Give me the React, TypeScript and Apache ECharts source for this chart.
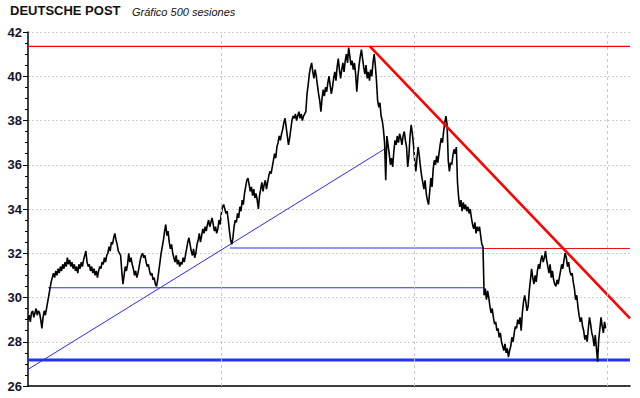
import React, { useEffect, useRef } from "react";
import * as echarts from "echarts";

const TITLE = "DEUTSCHE POST";
const SUBTITLE = "Gráfico 500 sesiones";

// 500 daily closes, in blocks of 10 sessions
const closes: number[] = [
  29.0, 29.2, 28.9, 29.3, 29.4, 29.1, 29.3, 29.5, 29.2, 29.4,
  29.3, 29.0, 28.6, 29.1, 29.4, 29.2, 29.5, 29.8, 30.1, 30.4,
  30.7, 30.9, 31.1, 30.9, 31.2, 31.0, 31.3, 31.1, 31.4, 31.2,
  31.5, 31.3, 31.6, 31.4, 31.8, 31.5, 31.7, 31.4, 31.6, 31.3,
  31.5, 31.2, 31.4, 31.1, 31.5, 31.3, 31.6, 31.4, 31.7, 31.9,
  32.1, 31.6, 31.4, 31.5, 31.2, 31.4, 31.1, 31.3, 31.0, 31.2,
  30.9, 31.2, 31.4, 31.3, 31.6, 31.5, 31.8, 31.6, 31.9, 32.0,
  32.3, 32.1, 32.5, 32.4, 32.7, 32.9, 32.6, 32.4, 32.1, 32.0,
  31.9, 31.2, 30.6, 31.0, 31.4, 31.2, 31.5, 32.0, 31.6, 31.8,
  31.5, 31.3, 31.0, 31.2, 30.9, 31.1, 31.4, 31.7, 31.9, 32.0,
  31.8, 31.9, 31.6, 31.4, 31.5, 31.2, 31.0, 31.1, 30.8, 30.9,
  30.6, 30.5, 30.8, 31.2, 31.6, 32.0, 32.3, 32.6, 33.0, 33.3,
  32.8, 33.0, 32.5, 32.2, 32.4, 32.0, 31.8, 31.6, 31.9, 31.5,
  31.7, 31.4, 31.6, 31.5, 31.8, 31.6, 31.9, 32.2, 32.5, 32.7,
  32.4, 32.1, 31.9, 32.2, 31.8, 32.0, 32.4, 32.6, 32.9, 32.5,
  32.8, 33.1, 32.9, 33.2, 33.0, 33.3, 33.5, 33.2, 33.4, 33.6,
  33.3, 33.0, 33.2, 32.9, 33.1, 33.5, 33.3, 33.8, 34.1, 34.2,
  34.0, 33.8, 33.9, 33.5, 33.0, 32.6, 32.4, 32.7, 33.2, 33.5,
  33.4, 33.8, 33.6, 34.1, 33.9, 34.4, 34.2, 34.7, 35.0, 35.3,
  35.4, 35.1, 34.8, 35.0, 34.6, 34.9, 34.5, 34.7, 34.4, 34.0,
  34.6, 34.9, 35.2, 34.8, 35.1, 35.3, 34.9, 35.2, 35.5, 35.7,
  35.6, 35.9, 36.2, 36.5, 36.3, 36.8, 37.0, 37.3, 37.1, 37.4,
  37.6, 37.9, 38.1, 37.7, 37.3, 36.9, 37.2, 37.6, 38.0, 38.2,
  38.1, 38.3, 38.0, 38.2, 38.4, 38.1, 38.3, 38.0, 38.2, 38.3,
  38.4, 39.2, 39.6, 40.1, 40.4, 40.6, 40.2, 39.9, 40.3, 40.0,
  39.6, 39.2, 38.9, 38.4, 39.0, 39.4, 39.1, 39.5, 39.3, 39.7,
  40.0, 39.6, 39.2, 39.5, 39.9, 40.2, 39.8, 40.4, 40.8, 40.3,
  39.9, 40.3, 40.6, 40.2, 40.7, 41.0, 40.6, 41.3, 40.9, 40.5,
  40.7, 40.3, 40.6, 40.1, 39.3, 40.0, 40.5, 40.9, 41.2, 40.8,
  40.4, 40.1, 40.5, 39.9, 40.2, 39.8, 40.3, 40.0, 40.6, 41.0,
  40.5, 39.8, 38.9, 38.6, 38.8, 38.2, 38.0, 37.6, 37.0, 35.3,
  37.3, 36.9, 36.5, 36.0, 36.3, 35.9, 36.6, 37.1, 36.9, 37.3,
  37.0, 37.4, 37.2, 36.9, 37.3, 37.5, 37.1, 36.8, 35.9, 36.4,
  37.3, 37.8, 37.4, 36.9, 36.2, 35.7, 36.3, 36.8, 36.4, 35.9,
  35.5, 35.2, 34.9, 35.3, 34.7, 34.4, 34.2, 34.8, 35.4, 35.0,
  35.8, 36.2, 36.0, 36.4, 36.1, 36.5, 36.9, 37.2, 37.0, 37.5,
  37.9, 38.2, 37.8, 36.2, 35.7, 36.1, 36.0, 36.4, 36.7, 36.5,
  36.8, 35.2, 34.5, 34.1, 34.4, 33.9, 34.3, 34.0, 34.2, 33.9,
  34.1, 33.8, 34.0, 33.6, 33.3, 33.1, 33.4, 32.9, 33.2, 33.0,
  33.2, 32.8, 32.4, 32.3, 30.1, 30.4, 29.9, 30.3, 30.0, 29.6,
  29.3, 29.5, 29.1, 28.8, 28.9, 28.5, 28.6, 28.2, 28.4, 28.0,
  27.8, 27.6, 27.9, 27.5, 27.7, 27.3, 27.6, 27.8, 28.2, 28.0,
  28.4, 28.7, 28.6, 29.0, 28.8, 29.1, 28.5, 29.3, 29.8, 30.1,
  29.8, 29.4, 29.6, 30.3, 30.8, 31.3, 30.9, 30.6, 31.0, 30.7,
  31.2, 31.5, 31.3, 31.7, 31.9, 31.6, 31.8, 32.1, 31.7, 31.4,
  31.1, 31.5, 30.9, 31.2, 30.8, 30.6, 30.5, 30.8, 30.6, 30.9,
  31.2, 31.5, 31.3, 31.7, 32.0, 31.8, 31.4, 31.6, 31.2, 31.0,
  31.1, 30.7, 30.4, 29.9, 30.1, 29.6, 29.2, 28.9, 29.1, 28.7,
  28.5, 28.1, 28.3, 28.0, 28.6, 29.1, 28.8, 28.4, 28.2, 27.8,
  28.3, 27.7, 27.1, 28.1, 28.6, 29.1, 28.7, 28.4, 28.9, 28.6,
];

const yTicks = [26, 28, 30, 32, 34, 36, 38, 40, 42];
const verticalGridSessions = [166.7, 333.3, 500];
const X_MAX = 520;

// Drawn study lines: [startSession, startValue, endSession, endValue]
const resistanceTop = [0, 41.35, 520, 41.35];
const downTrend = [295.3, 41.35, 520, 29.06];
const upTrend = [0, 26.75, 309.2, 36.75];
const support3045 = [17.3, 30.44, 393.8, 30.44];
const support3225 = [174.4, 32.24, 393.8, 32.24];
const resistance3222 = [393.8, 32.215, 520, 32.215];
const support2715 = [0, 27.17, 520, 27.17];

function lineSeries(l: number[], color: string, width: number, z: number) {
  return {
    type: "line",
    z,
    silent: true,
    showSymbol: false,
    symbol: "none",
    data: [
      [l[0], l[1]],
      [l[2], l[3]],
    ],
    lineStyle: { color, width, type: "solid" },
  };
}

export default function App() {
  const ref = useRef<HTMLDivElement>(null);
  useEffect(() => {
    if (!ref.current) return;
    const chart = echarts.init(ref.current, null, { renderer: "svg" });
    const priceData = closes.map((v, i) => [i, v]);
    chart.setOption({
      animation: false,
      backgroundColor: "#ffffff",
      graphic: [
        {
          type: "text",
          left: 10,
          top: 4,
          style: {
            text: TITLE,
            font: "bold 13px 'Liberation Sans', Arial, sans-serif",
            fill: "#111111",
          },
        },
        {
          type: "text",
          left: 132,
          top: 6,
          style: {
            text: SUBTITLE,
            font: "italic 11px 'Liberation Sans', Arial, sans-serif",
            fill: "#111111",
          },
        },
      ],
      grid: { left: 28, top: 32, right: 10, bottom: 12, containLabel: false },
      xAxis: {
        type: "value",
        min: 0,
        max: X_MAX,
        axisLine: { show: true, lineStyle: { color: "#000", width: 1.5 } },
        axisTick: { show: false },
        axisLabel: { show: false },
        splitLine: { show: false },
      },
      yAxis: {
        type: "value",
        min: yTicks[0],
        max: yTicks[yTicks.length - 1],
        interval: 2,
        axisLine: { show: true, lineStyle: { color: "#000", width: 1.5 } },
        axisTick: { show: true, length: 5, lineStyle: { color: "#000" } },
        minorTick: { show: true, splitNumber: 4, length: 3, lineStyle: { color: "#000" } },
        axisLabel: {
          margin: 6,
          color: "#141430",
          fontWeight: "bold",
          fontSize: 13,
          fontFamily: "'Liberation Sans', Arial, sans-serif",
        },
        splitLine: {
          show: true,
          lineStyle: { color: "#cfcfcf", type: [2, 2], width: 1 },
        },
      },
      series: [
        {
          type: "line",
          z: 1,
          data: [],
          silent: true,
          markLine: {
            silent: true,
            symbol: ["none", "none"],
            label: { show: false },
            lineStyle: { color: "#c8c8c8", type: [3, 3], width: 1 },
            data: verticalGridSessions.map((x) => ({ xAxis: x })),
          },
        },
        lineSeries(resistanceTop, "#ff0000", 1.3, 2),
        lineSeries(resistance3222, "#ee1111", 1, 2),
        lineSeries(support3045, "#2a2aff", 1.1, 2),
        lineSeries(support3225, "#2a2aff", 1.1, 2),
        lineSeries(upTrend, "#2a2aff", 1, 2),
        lineSeries(support2715, "#2233ee", 3, 2),
        lineSeries(downTrend, "#ff0000", 2.6, 4),
        {
          type: "line",
          z: 3,
          data: priceData,
          showSymbol: false,
          symbol: "none",
          silent: true,
          lineStyle: { color: "#000000", width: 1.6 },
        },
      ],
    });
    return () => chart.dispose();
  }, []);
  return (
    <div
      ref={ref}
      style={{ position: "fixed", left: 0, top: 0, width: 640, height: 398, background: "#fff" }}
    />
  );
}
